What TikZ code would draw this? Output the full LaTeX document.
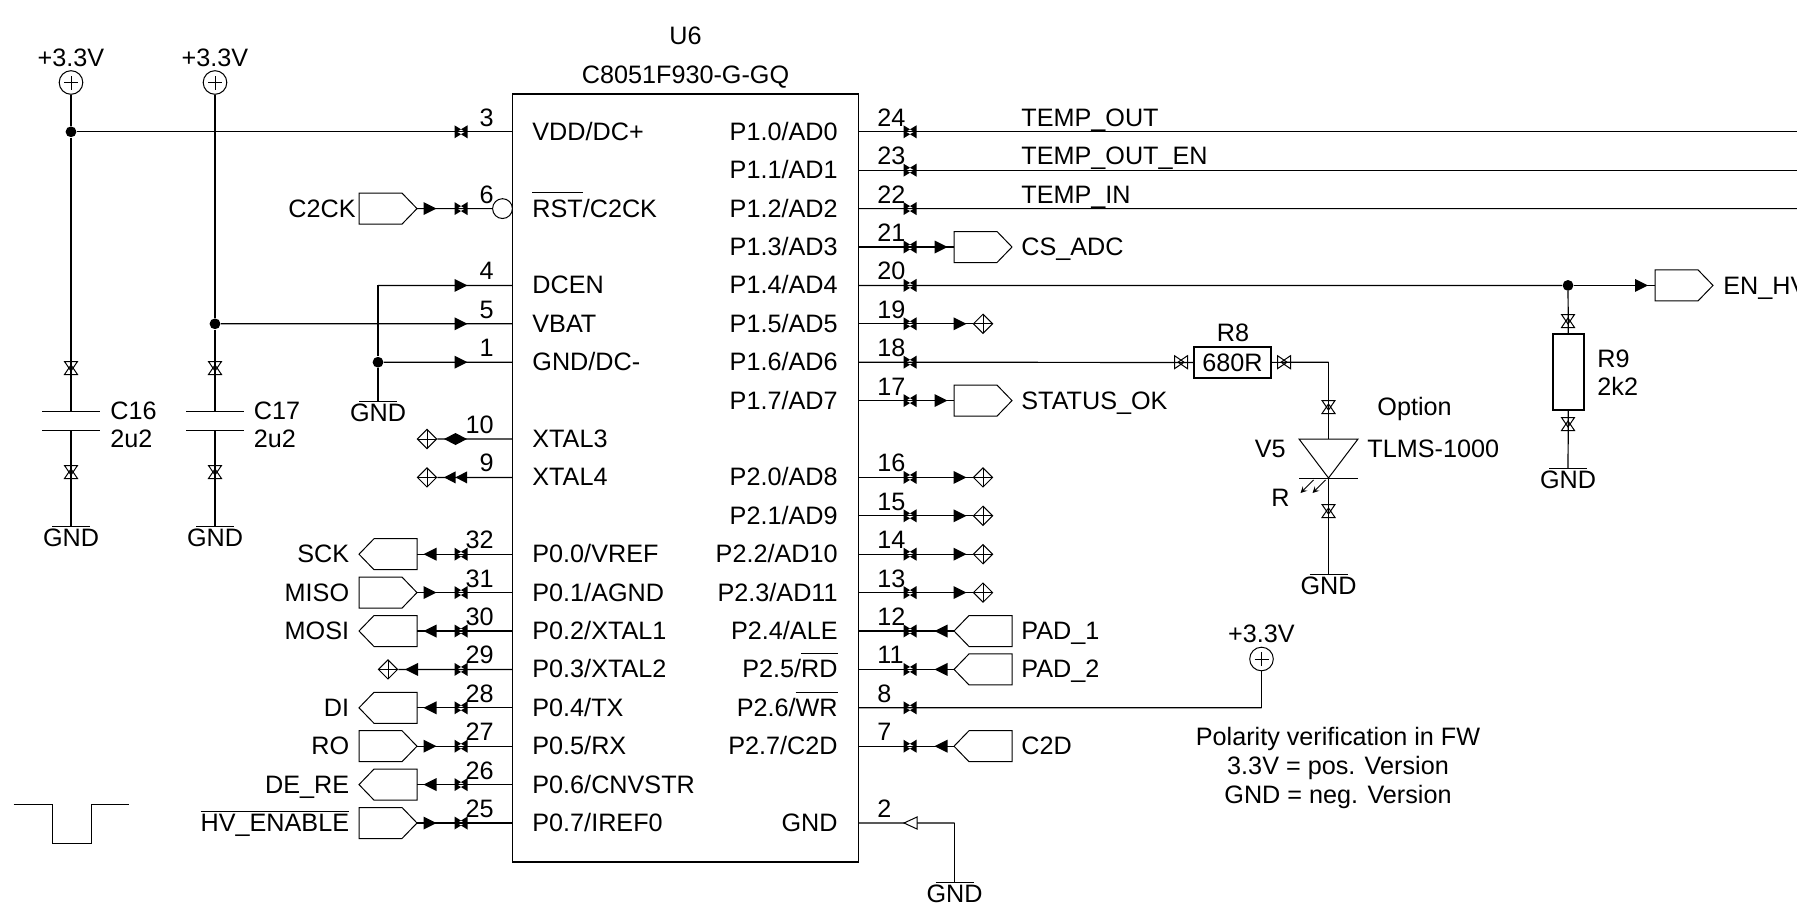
\documentclass[tikz,border=0pt]{standalone}
\usepackage{fontspec}
\setmainfont{Liberation Sans}
\usetikzlibrary{shapes.geometric}
\newcommand{\ovl}[2][1pt]{\vbox{\hrule height 0.4pt \kern #1 \hbox{#2}}}
\begin{document}
\begin{tikzpicture}
[x=0.5pt,y=-0.5pt,
  every node/.style={inner sep=0pt,font=\fontsize{12.6}{14.5}\selectfont},
  lineDecorate/.style={-,line width=0.6pt},
  symDecorate/.style={line width=0.5pt},
  textLeft/.style={anchor=base west},
  textRight/.style={anchor=base east},
  icDecorate/.style={draw,line width=0.7pt,minimum width=173pt,minimum height=384pt},
  resDecorate/.style={draw,line width=0.6pt},
  jointDecorate/.style={shape=circle,fill=black,minimum size=5.4pt},
  bubbleDecorate/.style={shape=circle,draw,symDecorate,minimum size=9.9pt},
  powerDecorate/.style={shape=circle,draw,symDecorate,minimum size=11.8pt,
    path picture={\draw[symDecorate] ([xshift=-3.5pt]path picture bounding box.center) -- ([xshift=3.5pt]path picture bounding box.center)
      ([yshift=-3.5pt]path picture bounding box.center) -- ([yshift=3.5pt]path picture bounding box.center);}},
  openDecorate/.style={shape=diamond,draw,symDecorate,minimum width=9.8pt,minimum height=9.8pt,
    path picture={\draw[symDecorate] (path picture bounding box.west) -- (path picture bounding box.east)
      (path picture bounding box.north) -- (path picture bounding box.south);}},
  bowTie/.pic={\fill (-6.5,-6.5) -- (4,0) -- (-6.5,6.5) -- cycle (6.5,-6.5) -- (-4,0) -- (6.5,6.5) -- cycle;},
  bowOpen/.pic={\draw[symDecorate] (-6.5,-6.5) -- (3,0) -- (-6.5,6.5) -- cycle (6.5,-6.5) -- (-3,0) -- (6.5,6.5) -- cycle;},
  arrowTip/.pic={\fill (-6.5,-6.5) -- (6.5,0) -- (-6.5,6.5) -- cycle;},
  arrowTwin/.pic={\fill (-11.5,0) -- (0,-6) -- (0,6) -- cycle (0,0) -- (11.5,-6) -- (11.5,6) -- cycle;},
  lozengeTip/.pic={\fill (-11.5,0) -- (0,-6) -- (11.5,0) -- (0,6) -- cycle;},
  signalFlag/.pic={\draw[symDecorate] (-29,-15.5) -- (14,-15.5) -- (29,0) -- (14,15.5) -- (-29,15.5) -- cycle;},
  gndSym/.pic={\coordinate (-top) at (0,0); \draw[symDecorate] (-19,0) -- (19,0);
    \node (-txt) at (0,20.5) [anchor=base] {GND};},
  capSym/.pic={\coordinate (-top) at (0,0); \coordinate (-bot) at (0,19);
    \draw[symDecorate] (-29,0) -- (29,0) (-29,19) -- (29,19);},
  ledSym/.pic={\coordinate (-top) at (0,0); \coordinate (-bot) at (0,39);
    \draw[symDecorate] (-29.5,0) -- (29.5,0) -- (0,39) -- cycle;
    \draw[symDecorate] (-29.5,39) -- (29.5,39);
    \draw[line width=0.4pt,->,>=stealth] (-3,41) -- (-16,54);
    \draw[line width=0.4pt,->,>=stealth] (-15,41) -- (-28,54);}]
\useasboundingbox (0,0) rectangle (1797,921);
%% chip and its title
\node (ic) at (685.4,478) [icDecorate] {};
\node (partRef) at (685.5,44) [anchor=base] {U6};
\node (partType) at (685.5,83) [anchor=base] {C8051F930-G-GQ};
%% pins on the left
\foreach \pinno/\pinrow/\pintext in {
  3/0/{VDD/DC+}, 6/2/{\ovl[3.2pt]{RST}/C2CK}, 4/4/DCEN, 5/5/VBAT, 1/6/{GND/DC-},
  10/8/XTAL3, 9/9/XTAL4, 32/11/{P0.0/VREF}, 31/12/{P0.1/AGND}, 30/13/{P0.2/XTAL1},
  29/14/{P0.3/XTAL2}, 28/15/{P0.4/TX}, 27/16/{P0.5/RX}, 26/17/{P0.6/CNVSTR}, 25/18/{P0.7/IREF0}}
{
  \pgfmathsetmacro{\yy}{131.8+38.4*\pinrow}
  \coordinate (pinL\pinno) at (512.4,\yy);
  \coordinate (markL\pinno) at (461,\yy);
  \node (numL\pinno) at (494,\yy-5.5) [textRight] {\pinno};
  \node (txtL\pinno) at (532,\yy+8.5) [textLeft] {\pintext};
}
%% pins on the right
\foreach \pinno/\pinrow/\pintext in {
  24/0/{P1.0/AD0}, 23/1/{P1.1/AD1}, 22/2/{P1.2/AD2}, 21/3/{P1.3/AD3}, 20/4/{P1.4/AD4},
  19/5/{P1.5/AD5}, 18/6/{P1.6/AD6}, 17/7/{P1.7/AD7}, 16/9/{P2.0/AD8}, 15/10/{P2.1/AD9},
  14/11/{P2.2/AD10}, 13/12/{P2.3/AD11}, 12/13/{P2.4/ALE}, 11/14/{P2.5/\ovl[3.2pt]{RD}},
  8/15/{P2.6/\ovl[3.2pt]{WR}}, 7/16/{P2.7/C2D}, 2/18/GND}
{
  \pgfmathsetmacro{\yy}{131.8+38.4*\pinrow}
  \coordinate (pinR\pinno) at (858.4,\yy);
  \coordinate (markR\pinno) at (910,\yy);
  \node (numR\pinno) at (877,\yy-5.5) [textLeft] {\pinno};
  \node (txtR\pinno) at (838,\yy+8.5) [textRight] {\pintext};
}
%% signal flags
\foreach \pinno/\pinrow/\signame/\dir/\labx in {
  6/2/C2CK/1/356, 32/11/SCK/-1/349.5, 31/12/MISO/1/349.5, 30/13/MOSI/-1/349.5,
  28/15/DI/-1/349.5, 27/16/RO/1/349.5, 26/17/DE\_RE/-1/349.5, 25/18/\ovl{HV\_ENABLE}/1/349.5}
{
  \pgfmathsetmacro{\yy}{131.8+38.4*\pinrow}
  \coordinate (tipL\pinno) at (417,\yy);
  \pic[xscale=\dir] at (388,\yy) {signalFlag};
  \pic[xscale=\dir] at (430,\yy) {arrowTip};
  \node (sigL\pinno) at (\labx,\yy+8.5) [textRight] {\signame};
}
\foreach \pinno/\pinrow/\signame/\dir in {
  21/3/CS\_ADC/1, 17/7/STATUS\_OK/1, 12/13/PAD\_1/-1, 11/14/PAD\_2/-1, 7/16/C2D/-1}
{
  \pgfmathsetmacro{\yy}{131.8+38.4*\pinrow}
  \coordinate (tipR\pinno) at (954,\yy);
  \pic[xscale=\dir] at (983,\yy) {signalFlag};
  \pic[xscale=\dir] at (941,\yy) {arrowTip};
  \node (sigR\pinno) at (1021,\yy+8.5) [textLeft] {\signame};
}
%% open ends
\foreach \pinno/\pinrow in {19/5, 16/9, 15/10, 14/11, 13/12}
{
  \pgfmathsetmacro{\yy}{131.8+38.4*\pinrow}
  \node (openR\pinno) at (983,\yy) [openDecorate] {};
  \pic at (960,\yy) {arrowTip};
}
\node (openL10) at (427,439) [openDecorate] {};
\node (openL9) at (427,477.4) [openDecorate] {};
\node (openL29) at (388,669.4) [openDecorate] {};
\pic[xscale=-1] at (411.5,669.4) {arrowTip};
%% supplies and parts
\node (pwrA) at (71,82.5) [powerDecorate] {};
\node (pwrB) at (215,82.5) [powerDecorate] {};
\node (pwrC) at (1261.5,659) [powerDecorate] {};
\node (pwrTxtA) at (71,66) [anchor=base] {+3.3V};
\node (pwrTxtB) at (215,66) [anchor=base] {+3.3V};
\node (pwrTxtC) at (1261.5,642) [anchor=base] {+3.3V};
\node (jVdd) at (71,131.8) [jointDecorate] {};
\node (jVbat) at (215,323.8) [jointDecorate] {};
\node (jGnd) at (378,362.2) [jointDecorate] {};
\node (jEn) at (1568,285.4) [jointDecorate] {};
\node (bubbleRst) at (502.5,208.6) [bubbleDecorate] {};
\pic (capA) at (71,411) {capSym};
\pic (capB) at (215,411) {capSym};
\pic (gndA) at (71,526) {gndSym};
\pic (gndB) at (215,526) {gndSym};
\pic (gndC) at (378,401) {gndSym};
\pic (gndD) at (1568,468) {gndSym};
\pic (gndE) at (1328.5,574) {gndSym};
\pic (gndF) at (954.5,882) {gndSym};
\pic (ledA) at (1328.5,439) {ledSym};
\node (r8) at (1232.5,362.5) [resDecorate,minimum width=38.5pt,minimum height=15.5pt] {680R};
\node (r9) at (1568.5,372) [resDecorate,minimum width=15.5pt,minimum height=38pt] {};
\coordinate (bend4) at (378,285.4);
\coordinate (bendR8) at (1328.5,362.2);
\coordinate (bend8) at (1261.5,707.8);
\coordinate (bend2) at (954.5,823);
\coordinate (edge24) at (1797,131.8);
\coordinate (edge23) at (1797,170.2);
\coordinate (edge22) at (1797,208.6);
\coordinate (tipEn) at (1655,285.4);
\pic at (1684,285.4) {signalFlag};
\pic at (1641.5,285.4) {arrowTip};
%% wires
\path
\foreach \startnode/\endnode in {
  pwrA/jVdd, jVdd/capA-top, capA-bot/gndA-top, pwrB/jVbat, jVbat/capB-top, capB-bot/gndB-top,
  jVdd/pinL3, jVbat/pinL5, bend4/pinL4, bend4/jGnd, jGnd/pinL1, jGnd/gndC-top,
  tipL6/bubbleRst, tipL32/pinL32, tipL31/pinL31, tipL30/pinL30, tipL28/pinL28, tipL27/pinL27,
  tipL26/pinL26, tipL25/pinL25, openL10/pinL10, openL9/pinL9, openL29/pinL29,
  pinR24/edge24, pinR23/edge23, pinR22/edge22, pinR20/jEn, jEn/tipEn, jEn/r9, r9/gndD-top,
  pinR21/tipR21, pinR17/tipR17, pinR12/tipR12, pinR11/tipR11, pinR7/tipR7,
  pinR19/openR19, pinR16/openR16, pinR15/openR15, pinR14/openR14, pinR13/openR13,
  pinR18/r8, r8/bendR8, bendR8/ledA-top, ledA-bot/gndE-top,
  pinR8/bend8, bend8/pwrC, pinR2/bend2, bend2/gndF-top}
{
  (\startnode) edge[lineDecorate] (\endnode)
};
%% pin marks
\foreach \pinno in {3,6,32,31,30,29,28,27,26,25}
{
  \pic at (markL\pinno) {bowTie};
}
\foreach \pinno in {24,23,22,21,20,19,18,17,16,15,14,13,12,11,8,7}
{
  \pic at (markR\pinno) {bowTie};
}
\foreach \pinno in {4,5,1}
{
  \pic at (markL\pinno) {arrowTip};
}
\pic at (455.5,439) {lozengeTip};
\pic at (455.5,477.4) {arrowTwin};
\draw[symDecorate,fill=white] (904,823) -- (917,817) -- (917,829) -- cycle;
%% marks on the parts
\foreach \x/\y/\turn in {
  71/368/90, 71/472/90, 215/368/90, 215/472/90, 1181/362.2/0, 1284/362.2/0,
  1328.5/407/90, 1328.5/511/90, 1568/321/90, 1568/424/90}
{
  \pic[rotate=\turn] at (\x,\y) {bowOpen};
}
%% labels
\node (capTxtA) at (110,419) [textLeft] {C16};
\node (capValA) at (110,447) [textLeft] {2u2};
\node (capTxtB) at (253.5,419) [textLeft] {C17};
\node (capValB) at (253.5,447) [textLeft] {2u2};
\node (r8Txt) at (1233,341) [anchor=base] {R8};
\node (r9Txt) at (1597,367) [textLeft] {R9};
\node (r9Val) at (1597,395) [textLeft] {2k2};
\node (ledOpt) at (1377,415) [textLeft] {Option};
\node (ledRef) at (1286,457) [textRight] {V5};
\node (ledType) at (1367,457) [textLeft] {TLMS-1000};
\node (ledColor) at (1290,506) [textRight] {R};
\node (tempOut) at (1021,126) [textLeft] {TEMP\_OUT};
\node (tempOutEn) at (1021,164.5) [textLeft] {TEMP\_OUT\_EN};
\node (tempIn) at (1021,203) [textLeft] {TEMP\_IN};
\node (enHv) at (1723,294) [textLeft] {EN\_HV};
\node (polNote) at (1338,767.5) [align=center] {Polarity verification in FW\\3.3V = pos. Version\\GND = neg. Version};
%% pulse
\draw[symDecorate] (13.5,804) -- (52,804) -- (52,843) -- (91,843) -- (91,804) -- (129,804);
\end{tikzpicture}
\end{document}
